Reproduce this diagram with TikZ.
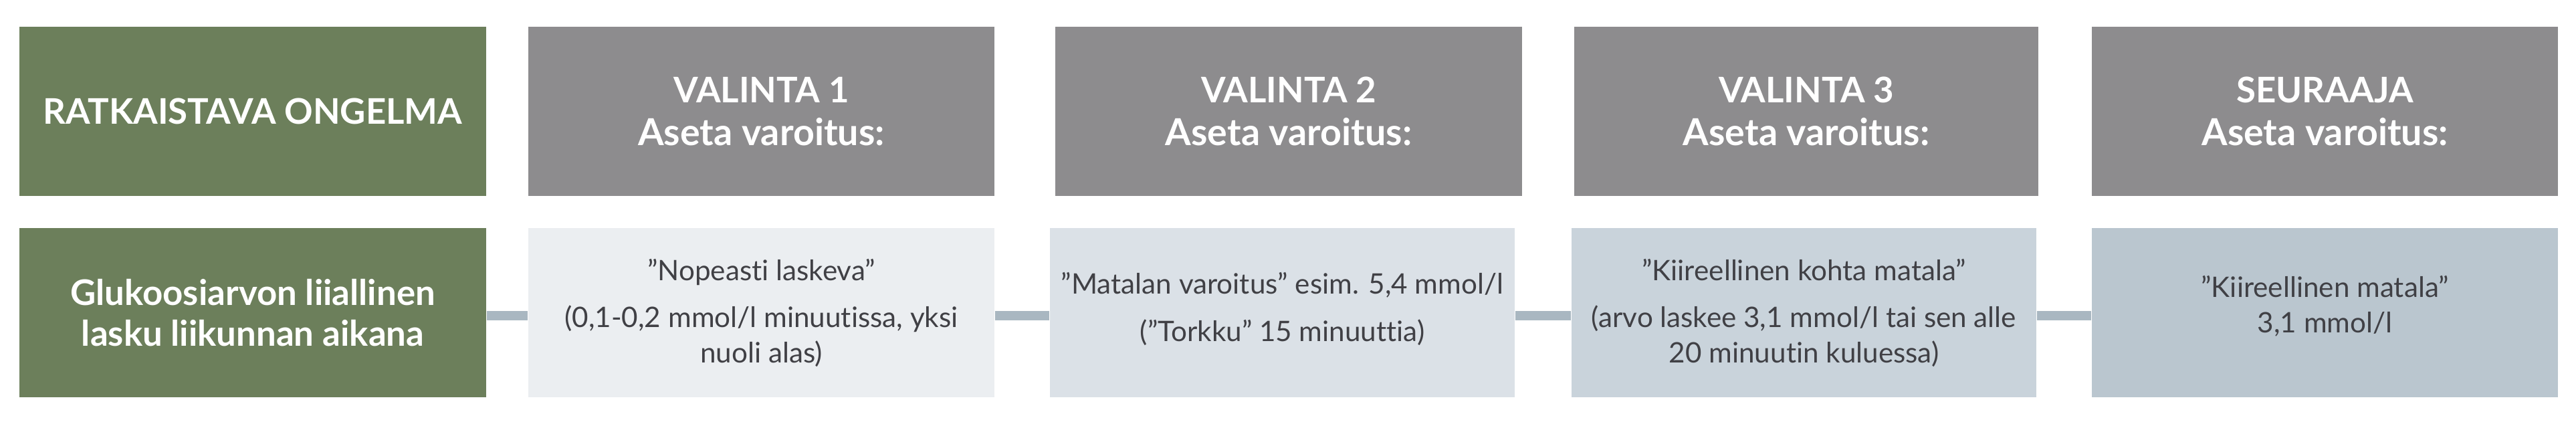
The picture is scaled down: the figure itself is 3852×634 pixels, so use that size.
\documentclass[tikz,border=0pt]{standalone}
\usepackage{fontspec}
\setmainfont{Lato}[Ligatures=NoCommon]
\definecolor{oliveg}{HTML}{6C7F5B}
\definecolor{headgrey}{HTML}{8D8C8E}
\definecolor{boxA}{HTML}{EBEEF1}
\definecolor{boxB}{HTML}{DBE1E7}
\definecolor{boxC}{HTML}{C9D3DB}
\definecolor{boxD}{HTML}{BAC6CF}
\definecolor{linkc}{HTML}{A9B7C1}
\definecolor{txtdark}{HTML}{404045}
\newcommand{\subhead}[1]{{\fontsize{15.8}{17.5}\selectfont #1}}
\tikzset{
  basebox/.style={rectangle, inner sep=0pt, draw=none, align=center, minimum height=2.52cm},
  headbox/.style={basebox, fill=headgrey, text=white, font=\fontsize{15}{18}\selectfont\bfseries},
  probbox/.style={basebox, fill=oliveg, text=white, font=\fontsize{15}{17.5}\selectfont\bfseries},
  alertbox/.style={basebox, text=txtdark, font=\fontsize{12}{15}\selectfont},
  linkline/.style={draw=linkc, line width=0.14cm}
}
\begin{document}
\begin{tikzpicture}[x=0.01cm, y=-0.01cm]
\useasboundingbox (0,0) rectangle (3852,634);
% top row
\node[probbox, minimum width=6.98cm] (p1) at (378,166.5) {RATKAISTAVA ONGELMA};
\node[headbox, minimum width=6.97cm] (h1) at (1138.5,166.5) {VALINTA 1\\\subhead{Aseta varoitus:}};
\node[headbox, minimum width=6.98cm] (h2) at (1927,166.5) {VALINTA 2\\\subhead{Aseta varoitus:}};
\node[headbox, minimum width=6.94cm] (h3) at (2701,166.5) {VALINTA 3\\\subhead{Aseta varoitus:}};
\node[headbox, minimum width=6.97cm] (h4) at (3476.5,166.5) {SEURAAJA\\\subhead{Aseta varoitus:}};
% bottom row
\node[probbox, minimum width=6.98cm] (p2) at (378,467.5) {Glukoosiarvon liiallinen\\lasku liikunnan aikana};
\node[alertbox, fill=boxA, minimum width=6.97cm] (b1) at (1138.5,467.5) {”Nopeasti laskeva”\\[5pt](0,1-0,2 mmol/l minuutissa, yksi\\nuoli alas)};
\node[alertbox, fill=boxB, minimum width=6.95cm] (b2) at (1917.5,467.5) {”Matalan varoitus” esim. 5,4 mmol/l\\[5pt](”Torkku” 15 minuuttia)\\[-10pt]\mbox{}};
\node[alertbox, fill=boxC, minimum width=6.95cm] (b3) at (2697.5,467.5) {”Kiireellinen kohta matala”\\[5pt](arvo laskee 3,1 mmol/l tai sen alle\\20 minuutin kuluessa)};
\node[alertbox, fill=boxD, minimum width=6.97cm] (b4) at (3476.5,467.5) {”Kiireellinen matala”\\3,1 mmol/l\\[-8pt]\mbox{}};
% connectors
\draw[linkline] ([yshift=-0.045cm]p2.east) -- ([yshift=-0.045cm]b1.west);
\draw[linkline] ([yshift=-0.045cm]b1.east) -- ([yshift=-0.045cm]b2.west);
\draw[linkline] ([yshift=-0.045cm]b2.east) -- ([yshift=-0.045cm]b3.west);
\draw[linkline] ([yshift=-0.045cm]b3.east) -- ([yshift=-0.045cm]b4.west);
\end{tikzpicture}
\end{document}
